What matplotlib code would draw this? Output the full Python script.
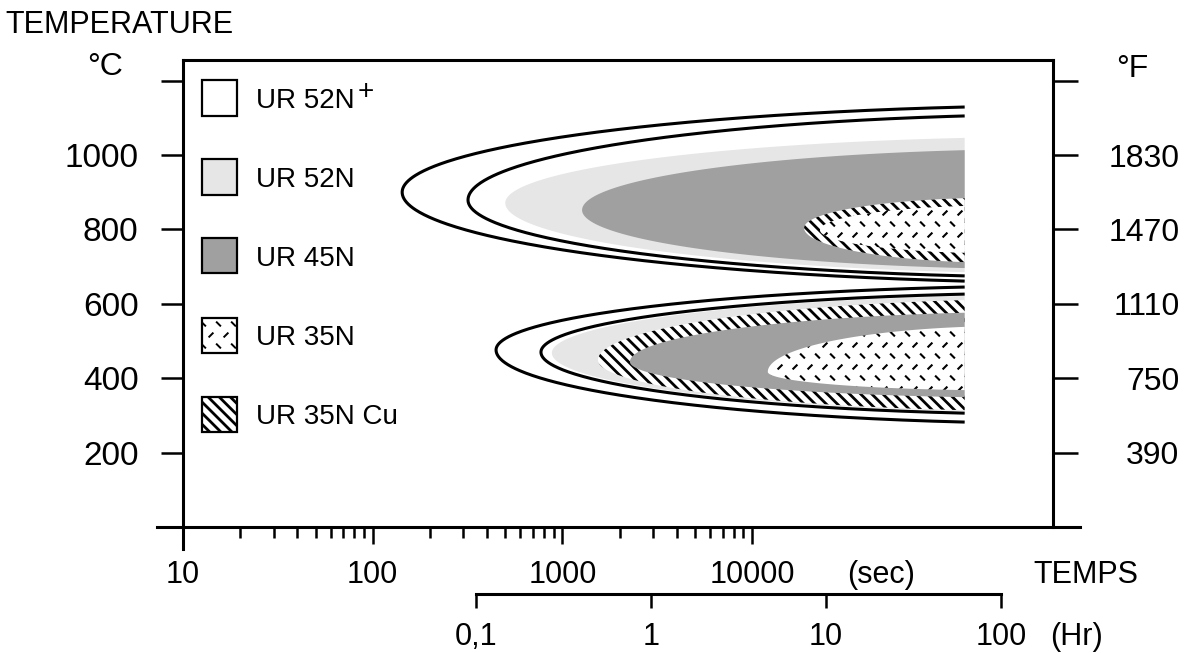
import numpy as np
import matplotlib.pyplot as plt
from matplotlib.patches import Rectangle
from matplotlib.collections import LineCollection
from matplotlib.transforms import IdentityTransform
from matplotlib.ticker import NullFormatter

plt.rcParams['font.family'] = ['Liberation Sans', 'DejaVu Sans']
plt.rcParams['hatch.linewidth'] = 2.0

# ---- data ----
sec_ticks = [10, 100, 1000, 10000]
sec_labels = ['10', '100', '1000', '10000']
hr_ticks = [0.1, 1, 10, 100]
hr_labels = ['0,1', '1', '10', '100']
temp_c_ticks = [200, 400, 600, 800, 1000, 1200]
temp_c_labels = ['200', '400', '600', '800', '1000', '']
temp_f_labels = ['390', '750', '1110', '1470', '1830', '']
end_time = 1.32e5  # curves are cut here (s)

grades = ['UR 52N+', 'UR 52N', 'UR 45N', 'UR 35N', 'UR 35N Cu']

# upper nose: outlined curves (UR 52N+, UR 52N)
up_line_nose_s = [143, 318]
up_line_nose_c = [900, 879]
up_line_top_c = [1129, 1105]
up_line_bot_c = [661, 675]
# upper nose: filled zones, in drawing order
up_fill_grade = ['UR 52N', 'UR 45N', 'UR 35N Cu', 'UR 35N']
up_fill_nose_s = [500, 1270, 18800, 22800]
up_fill_nose_c = [871, 852, 804, 798]
up_fill_top_c = [1046, 1013, 884, 863]
up_fill_bot_c = [685, 696, 712, 737]

# lower nose
lo_line_nose_s = [447, 771]
lo_line_nose_c = [476, 470]
lo_line_top_c = [645, 626]
lo_line_bot_c = [282, 306]
lo_fill_grade = ['UR 52N', 'UR 35N Cu', 'UR 45N', 'UR 35N']
lo_fill_nose_s = [880, 1540, 2270, 12100]
lo_fill_nose_c = [468, 449, 444, 417]
lo_fill_top_c = [621, 610, 576, 538]
lo_fill_bot_c = [312, 314, 349, 368]

# ---- styles ----
styles = {
    'UR 52N+': dict(facecolor='white'),
    'UR 52N': dict(facecolor='#e6e6e6'),
    'UR 45N': dict(facecolor='#a0a0a0'),
    'UR 35N': dict(facecolor='white', dashes=True),
    'UR 35N Cu': dict(facecolor='white', hatch='\\\\\\'),
}

W, H = 1195, 653


def fx(px):
    return px / W


def fy(py):
    return 1 - py / H


def c_curve(nose_s, nose_c, top_c, bot_c, end_s=end_time, k=0.25, n=400):
    # half ellipse in (log t, T), centre beyond the cut so the tails run flat
    u0, ue = np.log10(nose_s), np.log10(end_s)
    a = (ue - u0) * (1 + k)
    uc = u0 + a
    th_e = np.arccos(k / (1 + k))
    s_e = np.sin(th_e)
    th = np.linspace(-th_e, th_e, n)
    u = uc - a * np.cos(th)
    b = np.where(th > 0, (top_c - nose_c) / s_e, (nose_c - bot_c) / s_e)
    return 10 ** u, nose_c + b * np.sin(th)


def dash_texture(x0, x1, y0, y1, dx=15, dy=11, h=2.4):
    segs = []
    for j, cy in enumerate(np.arange(y0, y1, dy)):
        for cx in np.arange(x0 + (j % 2) * dx / 2, x1, dx):
            if j % 2 == 0:
                segs.append([(cx - h, cy - h), (cx + h, cy + h)])
            else:
                segs.append([(cx - h, cy + h), (cx + h, cy - h)])
    return segs


fig = plt.figure(figsize=(W / 100, H / 100), dpi=100)
ax = fig.add_axes([fx(157), fy(549.3), (1080 - 157) / W, (549.3 - 60) / H])
ax.set_xscale('log')
ax.set_xlim(10 ** 0.863, 10 ** 5.7285)
ax.set_ylim(-60, 1255.4)
t_right = 10 ** 5.586

for s in ['left', 'bottom', 'top']:
    ax.spines[s].set_linewidth(2.2)
ax.spines['left'].set_position(('data', 10))
ax.spines['bottom'].set_position(('data', 0))
ax.spines['top'].set_bounds(10, t_right)
ax.spines['right'].set_visible(False)

ax.set_xticks(sec_ticks, sec_labels)
minor = [m * 10 ** e for e in (1, 2, 3) for m in range(2, 10)]
ax.set_xticks(minor, minor=True)
ax.xaxis.set_minor_formatter(NullFormatter())
ax.tick_params(axis='x', which='major', direction='out', length=12, width=1.8,
               pad=12, labelsize=22)
ax.tick_params(axis='x', which='minor', direction='out', length=8, width=1.8)
ax.set_yticks(temp_c_ticks, temp_c_labels)
ax.tick_params(axis='y', which='both', direction='out', length=16, width=1.8,
               pad=16, labelsize=24)

ax2 = ax.twinx()
ax2.set_ylim(ax.get_ylim())
for s in ['left', 'bottom', 'top']:
    ax2.spines[s].set_visible(False)
ax2.spines['right'].set_linewidth(2.2)
ax2.spines['right'].set_position(('axes', (1053 - 157) / (1080 - 157)))
ax2.spines['right'].set_bounds(0, 1255.4)
ax2.set_yticks(temp_c_ticks, temp_f_labels)
ax2.tick_params(axis='y', direction='out', length=18, width=1.8, pad=73,
                labelsize=23)
for lab in ax2.get_yticklabels():
    lab.set_ha('right')


def draw_zone(grade, nose_s, nose_c, top_c, bot_c):
    st = styles[grade]
    t, T = c_curve(nose_s, nose_c, top_c, bot_c)
    poly = ax.fill(t, T, facecolor=st['facecolor'], edgecolor='black',
                   linewidth=0, hatch=st.get('hatch'))[0]
    if st.get('dashes'):
        lc = LineCollection(dash_texture(150, 1100, 0, H), colors='black',
                            linewidths=1.5, transform=IdentityTransform())
        ax.add_collection(lc, autolim=False)
        lc.set_clip_path(poly)


for g, a, b, c, d in zip(up_fill_grade, up_fill_nose_s, up_fill_nose_c,
                         up_fill_top_c, up_fill_bot_c):
    draw_zone(g, a, b, c, d)
for g, a, b, c, d in zip(lo_fill_grade, lo_fill_nose_s, lo_fill_nose_c,
                         lo_fill_top_c, lo_fill_bot_c):
    draw_zone(g, a, b, c, d)

for a, b, c, d in zip(up_line_nose_s + lo_line_nose_s,
                      up_line_nose_c + lo_line_nose_c,
                      up_line_top_c + lo_line_top_c,
                      up_line_bot_c + lo_line_bot_c):
    t, T = c_curve(a, b, c, d)
    ax.plot(t, T, color='black', lw=2.2, solid_capstyle='butt')

# legend drawn by hand
for i, g in enumerate(grades):
    cy = 98 + i * 79
    st = styles[g]
    rect = Rectangle((fx(202), fy(cy + 17.5)), 35 / W, 35 / H,
                     transform=fig.transFigure, facecolor=st['facecolor'],
                     edgecolor='black', linewidth=1.6, hatch=st.get('hatch'))
    fig.add_artist(rect)
    if st.get('dashes'):
        lc = LineCollection(dash_texture(196, 244, H - cy - 22, H - cy + 22),
                            colors='black', linewidths=1.4,
                            transform=IdentityTransform())
        fig.add_artist(lc)
        lc.set_clip_path(rect)
    label = g.rstrip('+')
    txt = fig.text(fx(256), fy(cy + 10), label, ha='left', va='baseline',
                   fontsize=20)
    if g.endswith('+'):
        ax.annotate('+', xy=(1, 0), xycoords=txt, xytext=(2, 11),
                    textcoords='offset points', ha='left', va='baseline',
                    fontsize=20, annotation_clip=False)

# hours axis
ax3 = fig.add_axes([fx(476), fy(594), (1001 - 476) / W, 0.0001])
ax3.set_xscale('log')
ax3.set_xlim(0.1, 100)
ax3.set_yticks([])
for s in ['left', 'right', 'top']:
    ax3.spines[s].set_visible(False)
ax3.spines['bottom'].set_linewidth(2.2)
ax3.patch.set_visible(False)
ax3.set_xticks(hr_ticks, hr_labels)
ax3.xaxis.set_minor_locator(plt.NullLocator())
ax3.tick_params(axis='x', direction='out', length=10, width=1.8, pad=10,
                labelsize=22)

fig.text(fx(5), fy(33), 'TEMPERATURE', ha='left', va='baseline', fontsize=22)
fig.text(fx(105), fy(75), '°C', ha='center', va='baseline', fontsize=23)
fig.text(fx(1132), fy(77), '°F', ha='center', va='baseline', fontsize=23)
fig.text(fx(881), fy(583), '(sec)', ha='center', va='baseline', fontsize=22)
fig.text(fx(1086), fy(583), 'TEMPS', ha='center', va='baseline', fontsize=22)
fig.text(fx(1077), fy(645), '(Hr)', ha='center', va='baseline', fontsize=22)

fig.savefig('out.png', dpi=100)
